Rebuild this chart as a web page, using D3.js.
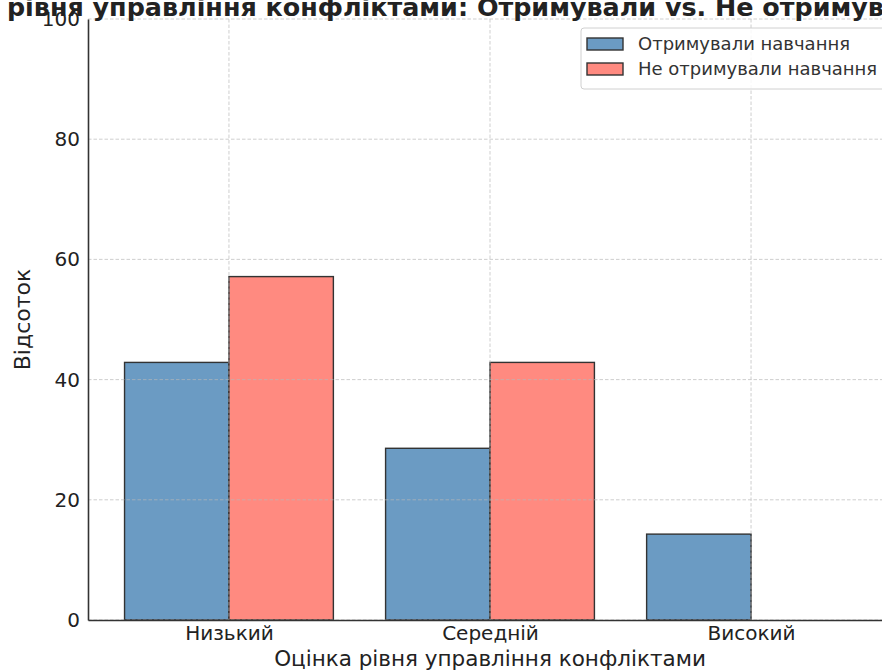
<!DOCTYPE html>
<html>
<head>
<meta charset="utf-8">
<script src="https://cdn.jsdelivr.net/npm/d3@7"></script>
<style>
  html, body { margin: 0; padding: 0; background: #fff; overflow: hidden; }
  svg { display: block; font-family: "DejaVu Sans", sans-serif; }
</style>
</head>
<body>
<svg id="chart" width="882" height="672"></svg>
<script>
// Data: share of respondents per conflict-management rating level
const categories = ["Низький", "Середній", "Високий"];
const trained = [42.86, 28.57, 14.29];
const untrained = [57.14, 42.86, 0];
const seriesNames = ["Отримували навчання", "Не отримували навчання"];
const yTicks = [0, 20, 40, 60, 80, 100];

const titleText = "Оцінка рівня управління конфліктами: Отримували vs. Не отримували навчання";
const xLabel = "Оцінка рівня управління конфліктами";
const yLabel = "Відсоток";

const svg = d3.select("#chart");
const plot = { left: 88, right: 892, top: 19, bottom: 620 };
const barW = 0.4;

const x = d3.scaleLinear().domain([-0.54, categories.length - 1 + 0.54]).range([plot.left, plot.right]);
const y = d3.scaleLinear().domain([0, 100]).range([plot.bottom, plot.top]);

const blue = "rgb(107,155,195)";
const red = "rgb(255,138,128)";
const edge = "#333";

// Bars
const series = [
  { name: seriesNames[0], values: trained, offset: -barW / 2, color: blue },
  { name: seriesNames[1], values: untrained, offset: barW / 2, color: red }
];
series.forEach(s => {
  svg.append("g").selectAll("rect")
    .data(s.values)
    .join("rect")
    .attr("x", (d, i) => x(i + s.offset - barW / 2))
    .attr("y", d => y(d))
    .attr("width", x(barW) - x(0))
    .attr("height", d => y(0) - y(d))
    .attr("fill", s.color)
    .attr("stroke", edge)
    .attr("stroke-width", 1.4);
});

// Grid drawn above the bars
const grid = svg.append("g")
  .attr("stroke", "#b8b8b8")
  .attr("stroke-width", 0.9)
  .attr("stroke-dasharray", "3.5,2")
  .attr("opacity", 0.75);
grid.selectAll("line.h").data(yTicks).join("line")
  .attr("class", "h")
  .attr("x1", plot.left).attr("x2", plot.right)
  .attr("y1", d => y(d)).attr("y2", d => y(d));
grid.selectAll("line.v").data(categories).join("line")
  .attr("class", "v")
  .attr("x1", (d, i) => x(i)).attr("x2", (d, i) => x(i))
  .attr("y1", plot.top).attr("y2", plot.bottom);

// Y axis
const yAxis = d3.axisLeft(y).tickValues(yTicks).tickSize(0).tickPadding(8);
const gy = svg.append("g").attr("transform", `translate(${plot.left},0)`).call(yAxis);
gy.select(".domain").attr("stroke", "#333").attr("stroke-width", 1.6);
gy.selectAll("text").attr("font-size", 20).attr("fill", "#222")
  .attr("font-family", "DejaVu Sans, sans-serif");

// X axis
const xAxis = d3.axisBottom(x).tickValues(categories.map((d, i) => i))
  .tickFormat(i => categories[i]).tickSize(0).tickPadding(6);
const gx = svg.append("g").attr("transform", `translate(0,${plot.bottom})`).call(xAxis);
gx.select(".domain").attr("stroke", "#333").attr("stroke-width", 1.6);
gx.selectAll("text").attr("font-size", 20).attr("fill", "#222")
  .attr("font-family", "DejaVu Sans, sans-serif");

// Axis titles
svg.append("text")
  .attr("x", (plot.left + plot.right) / 2).attr("y", 666)
  .attr("text-anchor", "middle")
  .attr("font-size", 21.5).attr("fill", "#222")
  .text(xLabel);
svg.append("text")
  .attr("transform", `translate(30,${(plot.top + plot.bottom) / 2}) rotate(-90)`)
  .attr("text-anchor", "middle")
  .attr("font-size", 22).attr("fill", "#222")
  .text(yLabel);

// Chart title
svg.append("text")
  .attr("x", (plot.left + plot.right) / 2).attr("y", 16)
  .attr("text-anchor", "middle")
  .attr("font-size", 25.4).attr("font-weight", "bold").attr("fill", "#222")
  .text(titleText);

// Legend
const lg = svg.append("g").attr("transform", "translate(581,28)");
lg.append("rect")
  .attr("x", 0).attr("y", 0).attr("width", 320).attr("height", 61)
  .attr("rx", 3)
  .attr("fill", "#fff").attr("fill-opacity", 0.85)
  .attr("stroke", "#d0d0d0").attr("stroke-width", 1);
series.forEach((s, i) => {
  const row = lg.append("g").attr("transform", `translate(0,${16 + i * 25})`);
  row.append("rect")
    .attr("x", 6).attr("y", -6).attr("width", 36).attr("height", 12)
    .attr("fill", s.color).attr("stroke", edge).attr("stroke-width", 1.4);
  row.append("text")
    .attr("x", 57).attr("y", 0).attr("dy", "0.35em")
    .attr("font-size", 18).attr("fill", "#333")
    .text(s.name);
});
</script>
</body>
</html>
